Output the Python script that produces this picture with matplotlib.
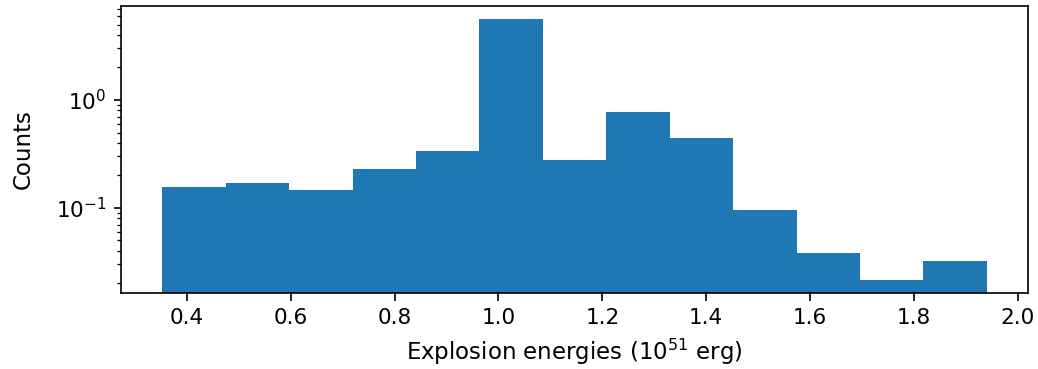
import numpy as np
import matplotlib
matplotlib.use("Agg")
import matplotlib.pyplot as plt

# bin range of the explosion energy histogram (10^51 erg)
e_min = 0.353
e_max = 1.940
n_bins = 13

# bar heights
counts = [0.156, 0.170, 0.147, 0.230, 0.337, 5.62, 0.278,
          0.774, 0.445, 0.0958, 0.0386, 0.0217, 0.0323]

edges = np.linspace(e_min, e_max, n_bins + 1)
centers = 0.5 * (edges[:-1] + edges[1:])

fig = plt.figure(figsize=(10.38, 3.69), dpi=100)
ax = fig.add_axes([0.1166, 0.2068, 0.8738, 0.7769])
ax.hist(centers, bins=edges, weights=counts, color="#1f77b4")
ax.set_yscale("log")
ax.set_ylim(0.01643, 7.42)
ax.set_xticks([0.4, 0.6, 0.8, 1.0, 1.2, 1.4, 1.6, 1.8, 2.0])
ax.tick_params(which="major", labelsize=15.5, length=5.4, width=1.2, pad=5.4)
ax.tick_params(which="minor", length=3.1, width=0.9)
for sp in ax.spines.values():
    sp.set_linewidth(1.2)
ax.set_xlabel("Explosion energies ($10^{51}$ erg)", fontsize=16.5)
ax.set_ylabel("Counts", fontsize=16.5)
ax.xaxis.set_label_coords(0.5, -0.155)
ax.yaxis.set_label_coords(-0.095, 0.5)

fig.savefig("out.png", dpi=100)
